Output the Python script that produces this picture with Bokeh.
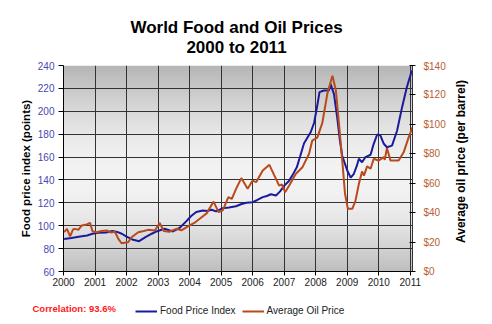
import math
import numpy as np
from bokeh.plotting import figure
from bokeh.layouts import column, row
from bokeh.models import (Range1d, LinearAxis, FixedTicker, Legend, Label,
                          LegendItem, PrintfTickFormatter)
from bokeh.embed import file_html
from bokeh.resources import INLINE

# ---------------- data ----------------
years = list(range(2000, 2012))
food_ticks = list(range(60, 241, 20))
oil_ticks = list(range(0, 141, 20))

food_t = [2000.02, 2000.25, 2000.53, 2000.75, 2000.92, 2001.10, 2001.35, 2001.55, 2001.70,
          2001.85, 2002.00, 2002.18, 2002.40, 2002.60, 2002.80, 2002.95, 2003.20, 2003.35,
          2003.47, 2003.68, 2003.90, 2004.05, 2004.21, 2004.42, 2004.55, 2004.70, 2004.84,
          2005.05, 2005.25, 2005.47, 2005.65, 2005.80, 2006.00, 2006.15, 2006.32, 2006.45,
          2006.58, 2006.74, 2006.87, 2007.00, 2007.15, 2007.26, 2007.40, 2007.50, 2007.63,
          2007.84, 2007.95, 2008.05, 2008.12, 2008.26, 2008.42, 2008.47, 2008.58, 2008.68,
          2008.76, 2008.84, 2009.00, 2009.11, 2009.21, 2009.30, 2009.37, 2009.47, 2009.58,
          2009.74, 2009.84, 2009.95, 2010.05, 2010.16, 2010.26, 2010.42, 2010.58, 2010.74,
          2010.89, 2011.05]
food_idx = [88.5, 89.3, 90.6, 91.5, 93.0, 93.8, 94.0, 95.5, 94.6,
            93.0, 90.5, 88.0, 86.5, 90.0, 93.0, 95.0, 97.3, 96.0,
            95.0, 98.0, 104.0, 108.5, 112.0, 113.3, 112.8, 114.0, 112.5,
            115.3, 116.0, 117.0, 119.0, 120.0, 120.6, 122.5, 125.0, 126.0,
            127.5, 126.4, 130.0, 135.0, 139.0, 144.0, 151.0, 160.0, 172.0,
            181.7, 190.0, 205.0, 216.7, 218.2, 218.2, 224.0, 215.0, 195.0,
            176.0, 161.0, 148.3, 142.0, 145.4, 152.0, 158.5, 155.5, 160.0,
            162.0, 171.6, 179.7, 179.0, 171.6, 168.6, 170.0, 183.0, 203.6,
            221.0, 235.6]

oil_t = [2000.02, 2000.11, 2000.21, 2000.30, 2000.37, 2000.47, 2000.58, 2000.74, 2000.84,
         2000.92, 2001.05, 2001.20, 2001.37, 2001.50, 2001.63, 2001.74, 2001.84, 2002.05,
         2002.16, 2002.37, 2002.55, 2002.68, 2002.90, 2003.05, 2003.18, 2003.35, 2003.58,
         2003.74, 2004.00, 2004.15, 2004.32, 2004.54, 2004.76, 2004.92, 2005.05, 2005.23,
         2005.34, 2005.47, 2005.64, 2005.84, 2006.00, 2006.11, 2006.32, 2006.53, 2006.69,
         2006.84, 2006.93, 2007.03, 2007.16, 2007.37, 2007.58, 2007.79, 2007.89, 2008.05,
         2008.21, 2008.37, 2008.53, 2008.64, 2008.74, 2008.84, 2008.93, 2009.02, 2009.16,
         2009.26, 2009.37, 2009.47, 2009.53, 2009.63, 2009.74, 2009.84, 2009.99, 2010.16,
         2010.19, 2010.26, 2010.37, 2010.63, 2010.79, 2010.95, 2011.07]
oil_price = [26.7, 29.0, 23.8, 28.5, 29.0, 28.3, 31.3, 32.0, 33.1,
             27.4, 26.7, 27.5, 27.9, 26.5, 27.0, 22.2, 19.2, 19.9,
             23.3, 26.7, 27.5, 28.3, 27.9, 33.0, 27.5, 27.0, 29.0,
             28.0, 31.3, 33.0, 35.8, 39.5, 47.5, 40.3, 41.5, 50.5,
             49.4, 56.0, 63.5, 56.2, 61.8, 60.7, 68.6, 72.5, 65.2,
             58.4, 59.1, 53.9, 58.4, 66.4, 70.9, 80.0, 89.0, 91.0,
             101.0, 121.0, 133.0, 123.0, 100.0, 76.0, 52.8, 42.6, 42.6,
             48.0, 59.6, 68.0, 65.2, 71.4, 69.8, 76.6, 75.4, 77.7,
             75.9, 84.0, 75.4, 75.4, 81.0, 91.3, 98.0]

title_1 = "World Food and Oil Prices"
title_2 = "2000 to 2011"
left_label = "Food price index (points)"
right_label = "Average oil price (per barrel)"
corr_text = "Correlation: 93.6%"
series_names = ["Food Price Index", "Average Oil Price"]

# ---------------- style ----------------
FONT = "Liberation Sans"
BLUE = "#1a1a9c"
ORANGE = "#b84a1c"
X_END = 2011.07
W = 492
TOP_H = 60
MAIN_H = 233
BOT_H = 324 - TOP_H - MAIN_H
MAIN_W = 448
FRAME_BOTTOM = 271  # page y of the plot frame's bottom edge


def blank(width, height):
    f = figure(width=width, height=height, output_backend="svg", toolbar_location=None,
               x_range=Range1d(0, width), y_range=Range1d(0, height),
               x_axis_type=None, y_axis_type=None, min_border=0, title=None)
    f.outline_line_color = None
    f.background_fill_color = "white"
    f.border_fill_color = "white"
    return f


def txt(fig, x, y, text, size, color="black", bold=True, angle=0.0, align="center"):
    fig.add_layout(Label(x=x, y=y, x_units="screen", y_units="screen", text=text,
                         angle=angle, text_font=FONT, text_font_size=size,
                         text_font_style="bold" if bold else "normal",
                         text_align=align, text_baseline="middle", text_color=color))


# ---------------- title strip ----------------
top = blank(W, TOP_H)
txt(top, 236, TOP_H - 26.5, title_1, "17px")
txt(top, 236, TOP_H - 46.7, title_2, "17px")

# ---------------- main chart ----------------
p = figure(width=MAIN_W, height=MAIN_H, output_backend="svg", toolbar_location=None,
           x_range=Range1d(2000, X_END), y_range=Range1d(60, 240),
           min_border_left=63, min_border_right=MAIN_W - 414, min_border_top=5,
           min_border_bottom=22, title=None)
p.outline_line_color = None
p.background_fill_color = "white"
p.border_fill_color = "white"

# gradient background of plot area
H = 206
img = np.empty((H, 1), dtype=np.uint32)
view = img.view(dtype=np.uint8).reshape((H, 1, 4))
for i in range(H):
    f = i / (H - 1)  # 0 bottom, 1 top
    if f < 0.45:
        g = 0xbf + (0xf3 - 0xbf) * math.sin(f / 0.45 * math.pi / 2)
    else:
        g = 0xf3 - (0xf3 - 0xb6) * (1 - math.cos((f - 0.45) / 0.55 * math.pi / 2))
    view[i, 0, 0] = int(g)
    view[i, 0, 1] = int(g)
    view[i, 0, 2] = int(g)
    view[i, 0, 3] = 255
p.image_rgba(image=[img], x=2000, y=60, dw=X_END - 2000, dh=180, level="image")

p.xgrid.ticker = FixedTicker(ticks=years)
p.ygrid.ticker = FixedTicker(ticks=food_ticks)
for g in (p.xgrid, p.ygrid):
    g.grid_line_color = "#333333"
    g.grid_line_width = 1

p.xaxis.ticker = FixedTicker(ticks=years)
p.xaxis.major_label_text_font = FONT
p.xaxis.major_label_text_font_size = "10px"
p.xaxis.major_label_text_color = "#222222"
p.xaxis.major_tick_out = 4
p.xaxis.major_tick_in = 0
p.xaxis.minor_tick_line_color = None
p.xaxis.major_label_standoff = 2
p.xaxis.axis_line_color = "black"

p.yaxis.ticker = FixedTicker(ticks=food_ticks)
p.yaxis.major_label_text_font = FONT
p.yaxis.major_label_text_font_size = "10px"
p.yaxis.major_label_text_color = "#4848b0"
p.yaxis.major_tick_out = 5
p.yaxis.major_tick_in = 0
p.yaxis.minor_tick_line_color = None
p.yaxis.major_label_standoff = 4
p.yaxis.axis_line_color = "black"
p.yaxis.axis_label = left_label
p.yaxis.axis_label_standoff = 3
p.yaxis.axis_label_text_font = FONT
p.yaxis.axis_label_text_font_size = "11.5px"
p.yaxis.axis_label_text_font_style = "bold"
p.yaxis.axis_label_text_color = "black"

p.extra_y_ranges = {"oil": Range1d(0, 140)}
ax_r = LinearAxis(y_range_name="oil", ticker=FixedTicker(ticks=oil_ticks),
                  formatter=PrintfTickFormatter(format="$%d"))
ax_r.major_label_text_font = FONT
ax_r.major_label_text_font_size = "10px"
ax_r.major_label_text_color = "#b8602f"
ax_r.major_tick_in = 3
ax_r.major_tick_out = 3
ax_r.minor_tick_line_color = None
ax_r.major_label_standoff = 8
ax_r.axis_line_color = "#333333"
p.add_layout(ax_r, "right")

p.line(food_t, food_idx, line_color=BLUE, line_width=2)
p.line(oil_t, oil_price, line_color=ORANGE, line_width=2, y_range_name="oil")

# ---------------- right axis title strip (its frame is aligned with the chart's) ----------------
side = blank(W - MAIN_W, MAIN_H)
txt(side, 460 - MAIN_W, FRAME_BOTTOM - 161, right_label, "12px", angle=math.pi / 2)

# ---------------- bottom strip: note + legend ----------------
bot = blank(W, BOT_H)
txt(bot, 32, BOT_H - (307.7 - TOP_H - MAIN_H), corr_text, "9.5px", color="#ff1a1a",
    align="left")
nan = [float("nan")]
s_food = bot.line(x=nan, y=nan, line_color=BLUE, line_width=2)
s_oil = bot.line(x=nan, y=nan, line_color=ORANGE, line_width=2)
legend = Legend(items=[LegendItem(label=series_names[0], renderers=[s_food]),
                       LegendItem(label=series_names[1], renderers=[s_oil])],
                location=(135, BOT_H - (316.5 - TOP_H - MAIN_H)), orientation="horizontal")
legend.padding = 0
legend.margin = 0
legend.spacing = 6
legend.label_standoff = 3
legend.glyph_width = 22
legend.glyph_height = 12
legend.label_height = 12
legend.label_text_font = FONT
legend.label_text_font_size = "10px"
legend.label_text_color = "#222222"
legend.border_line_color = None
legend.background_fill_alpha = 0
bot.add_layout(legend)

layout = column(top, row(p, side), bot)
open("out.html", "w").write(file_html(layout, INLINE))
